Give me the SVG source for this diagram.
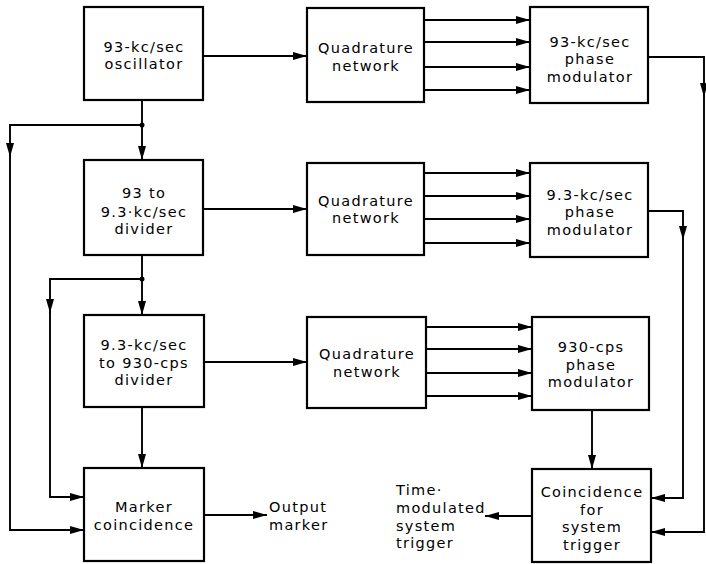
<svg xmlns="http://www.w3.org/2000/svg" width="706" height="564" viewBox="0 0 706 564">
<style>
.box{fill:#fff;stroke:#000;stroke-width:2.2}
.ln{fill:none;stroke:#000;stroke-width:1.9}
.t{font-family:"DejaVu Sans","Liberation Sans",sans-serif;font-size:14.5px;letter-spacing:1.3px;fill:#000;text-anchor:middle}
.tl{text-anchor:start}
</style>
<defs>
<marker id="ah" viewBox="0 0 14 8" refX="14" refY="4" markerWidth="14" markerHeight="8" orient="auto" markerUnits="userSpaceOnUse">
<path d="M0,0 L14,4 L0,8 Z" fill="#000"/>
</marker>
</defs>
<rect width="706" height="564" fill="#fff"/>
<g id="connectors">
<path class="ln" d="M203,56 H307" marker-end="url(#ah)"/>
<path class="ln" d="M424,20 H530" marker-end="url(#ah)"/>
<path class="ln" d="M424,42 H530" marker-end="url(#ah)"/>
<path class="ln" d="M424,67 H530" marker-end="url(#ah)"/>
<path class="ln" d="M424,90 H530" marker-end="url(#ah)"/>
<path class="ln" d="M648,57 H704 V97" marker-end="url(#ah)"/>
<path class="ln" d="M704,96 V532 H651" marker-end="url(#ah)"/>
<path class="ln" d="M142,100 V160" marker-end="url(#ah)"/>
<circle cx="142" cy="125" r="2.5" fill="#000"/>
<path class="ln" d="M142,125 H10 V157" marker-end="url(#ah)"/>
<path class="ln" d="M10,156 V530 H84" marker-end="url(#ah)"/>
<path class="ln" d="M203,209 H307" marker-end="url(#ah)"/>
<path class="ln" d="M424,173 H530" marker-end="url(#ah)"/>
<path class="ln" d="M424,196 H530" marker-end="url(#ah)"/>
<path class="ln" d="M424,219 H530" marker-end="url(#ah)"/>
<path class="ln" d="M424,243 H530" marker-end="url(#ah)"/>
<path class="ln" d="M648,211 H683 V240" marker-end="url(#ah)"/>
<path class="ln" d="M683,239 V498 H651" marker-end="url(#ah)"/>
<path class="ln" d="M142,255 V315" marker-end="url(#ah)"/>
<circle cx="142" cy="279" r="2.5" fill="#000"/>
<path class="ln" d="M142,279 H50 V313" marker-end="url(#ah)"/>
<path class="ln" d="M50,312 V497 H84" marker-end="url(#ah)"/>
<path class="ln" d="M204,362 H307" marker-end="url(#ah)"/>
<path class="ln" d="M426,327 H532" marker-end="url(#ah)"/>
<path class="ln" d="M426,349 H532" marker-end="url(#ah)"/>
<path class="ln" d="M426,373 H532" marker-end="url(#ah)"/>
<path class="ln" d="M426,396 H532" marker-end="url(#ah)"/>
<path class="ln" d="M592,410 V469" marker-end="url(#ah)"/>
<path class="ln" d="M532,516 H485" marker-end="url(#ah)"/>
<path class="ln" d="M142,407 V468" marker-end="url(#ah)"/>
<path class="ln" d="M204,515 H267" marker-end="url(#ah)"/>
</g>
<g id="osc">
<rect class="box" x="84" y="7" width="119" height="93"/>
<text class="t" x="144" y="52">93-kc/sec</text>
<text class="t" x="144" y="69">oscillator</text>
</g>
<g id="quad1">
<rect class="box" x="307" y="8" width="117" height="94"/>
<text class="t" x="366" y="53">Quadrature</text>
<text class="t" x="366" y="71">network</text>
</g>
<g id="mod1">
<rect class="box" x="530" y="7" width="118" height="96"/>
<text class="t" x="590" y="47">93-kc/sec</text>
<text class="t" x="590" y="64">phase</text>
<text class="t" x="590" y="82">modulator</text>
</g>
<g id="div1">
<rect class="box" x="84" y="160" width="119" height="95"/>
<text class="t" x="144" y="198">93 to</text>
<text class="t" x="144" y="217">9.3·kc/sec</text>
<text class="t" x="144" y="234">divider</text>
</g>
<g id="quad2">
<rect class="box" x="307" y="163" width="117" height="92"/>
<text class="t" x="366" y="206">Quadrature</text>
<text class="t" x="366" y="223">network</text>
</g>
<g id="mod2">
<rect class="box" x="530" y="163" width="118" height="94"/>
<text class="t" x="590" y="200">9.3-kc/sec</text>
<text class="t" x="590" y="217">phase</text>
<text class="t" x="590" y="235">modulator</text>
</g>
<g id="div2">
<rect class="box" x="84" y="315" width="120" height="92"/>
<text class="t" x="144" y="350">9.3-kc/sec</text>
<text class="t" x="144" y="368">to 930-cps</text>
<text class="t" x="144" y="385">divider</text>
</g>
<g id="quad3">
<rect class="box" x="307" y="317" width="119" height="91"/>
<text class="t" x="367" y="359">Quadrature</text>
<text class="t" x="367" y="377">network</text>
</g>
<g id="mod3">
<rect class="box" x="532" y="317" width="117" height="93"/>
<text class="t" x="591" y="352">930-cps</text>
<text class="t" x="591" y="370">phase</text>
<text class="t" x="591" y="387">modulator</text>
</g>
<g id="marker">
<rect class="box" x="84" y="468" width="120" height="93"/>
<text class="t" x="144" y="512">Marker</text>
<text class="t" x="144" y="530">coincidence</text>
</g>
<g id="coinc">
<rect class="box" x="532" y="469" width="119" height="93"/>
<text class="t" x="592" y="497">Coincidence</text>
<text class="t" x="592" y="515">for</text>
<text class="t" x="592" y="532">system</text>
<text class="t" x="592" y="550">trigger</text>
</g>
<g id="output-marker">
<text class="t tl" x="269" y="512">Output</text>
<text class="t tl" x="269" y="530">marker</text>
</g>
<g id="time-trigger">
<text class="t tl" x="396" y="495">Time·</text>
<text class="t tl" x="396" y="513">modulated</text>
<text class="t tl" x="396" y="531">system</text>
<text class="t tl" x="396" y="548">trigger</text>
</g>
</svg>
